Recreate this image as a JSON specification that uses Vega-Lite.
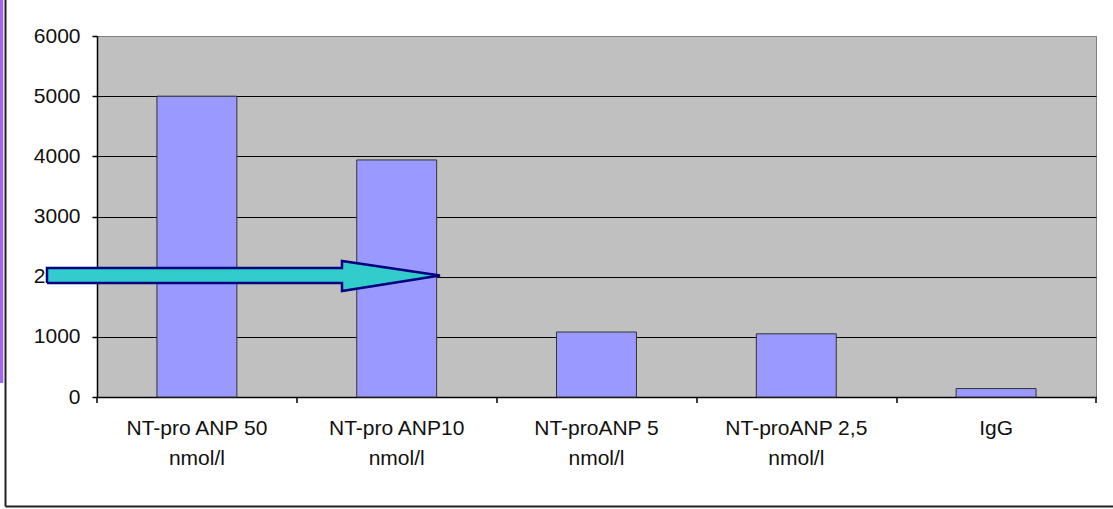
{
  "$schema": "https://vega.github.io/schema/vega-lite/v6.json",
  "width": 999,
  "height": 361,
  "autosize": {"type": "none"},
  "padding": {"left": 97, "top": 36, "right": 17, "bottom": 112},
  "background": "white",
  "config": {
    "view": {"fill": "#C0C0C0", "stroke": "#808080", "strokeWidth": 1},
    "font": "Liberation Sans"
  },
  "datasets": {
    "bars": [
      {"cat": "NT-pro ANP 50 nmol/l", "value": 5000},
      {"cat": "NT-pro ANP10 nmol/l", "value": 3940},
      {"cat": "NT-proANP 5 nmol/l", "value": 1080},
      {"cat": "NT-proANP 2,5 nmol/l", "value": 1050},
      {"cat": "IgG", "value": 140}
    ],
    "arrow": [
      {"i": 0, "x": -50, "y": 1895},
      {"i": 1, "x": 245, "y": 1895},
      {"i": 2, "x": 245, "y": 1762},
      {"i": 3, "x": 343, "y": 2020},
      {"i": 4, "x": 245, "y": 2260},
      {"i": 5, "x": 245, "y": 2144},
      {"i": 6, "x": -50, "y": 2144},
      {"i": 7, "x": -50, "y": 1895}
    ],
    "frame": [
      {"x": -91.5, "y": 6598, "x2": -91.5, "y2": -1820},
      {"x": -91.5, "y": -1820, "x2": 1016, "y2": -1820}
    ],
    "purple": [
      {"x": -95.5, "y": 6598, "x2": -95.5, "y2": 233}
    ],
    "ticks": [
      {"x": 0, "y": 0, "x2": 0, "y2": -100},
      {"x": 200, "y": 0, "x2": 200, "y2": -100},
      {"x": 400, "y": 0, "x2": 400, "y2": -100},
      {"x": 600, "y": 0, "x2": 600, "y2": -100},
      {"x": 800, "y": 0, "x2": 800, "y2": -100},
      {"x": 999, "y": 0, "x2": 999, "y2": -100}
    ]
  },
  "layer": [
    {
      "data": {"name": "bars"},
      "mark": {"type": "bar", "fill": "#9999FF", "stroke": "#333333", "strokeWidth": 1},
      "encoding": {
        "x": {
          "field": "cat", "type": "nominal", "sort": null,
          "scale": {"paddingInner": 0.6, "paddingOuter": 0.3},
          "axis": {
            "title": null, "labelAngle": 0, "ticks": false,
            "domainColor": "#000000", "domainWidth": 1.5,
            "labelFont": "Liberation Sans", "labelFontSize": 21, "labelColor": "#111111",
            "labelPadding": 20, "labelLineHeight": 30,
            "labelExpr": "datum.label == 'IgG' ? 'IgG' : split(replace(datum.label, ' nmol', '|nmol'), '|')"
          }
        },
        "y": {
          "field": "value", "type": "quantitative",
          "scale": {"domain": [0, 6000], "nice": false},
          "axis": {
            "title": null, "values": [0, 1000, 2000, 3000, 4000, 5000, 6000],
            "format": "d",
            "grid": true,
            "gridColor": {"condition": {"test": "datum.value == 6000", "value": "#808080"}, "value": "#000000"},
            "gridWidth": 1.2,
            "domainColor": "#000000", "domainWidth": 1.5,
            "tickColor": "#000000", "tickSize": 5, "tickWidth": 1.5,
            "labelFont": "Liberation Sans", "labelFontSize": 21, "labelColor": "#111111",
            "labelPadding": 12
          }
        }
      }
    },
    {
      "data": {"name": "ticks"},
      "mark": {"type": "rule", "color": "#000000", "strokeWidth": 1.5},
      "encoding": {
        "x": {"field": "x", "type": "quantitative", "scale": {"domain": [0, 999], "nice": false, "zero": false}, "axis": null},
        "x2": {"field": "x2"},
        "y": {"field": "y", "type": "quantitative"},
        "y2": {"field": "y2"}
      }
    },
    {
      "data": {"name": "frame"},
      "mark": {"type": "rule", "color": "#222222", "strokeWidth": 2},
      "encoding": {
        "x": {"field": "x", "type": "quantitative", "scale": {"domain": [0, 999], "nice": false, "zero": false}, "axis": null},
        "x2": {"field": "x2"},
        "y": {"field": "y", "type": "quantitative"},
        "y2": {"field": "y2"}
      }
    },
    {
      "data": {"name": "purple"},
      "mark": {"type": "rule", "color": "#A066F0", "strokeWidth": 3.5},
      "encoding": {
        "x": {"field": "x", "type": "quantitative", "scale": {"domain": [0, 999], "nice": false, "zero": false}, "axis": null},
        "x2": {"field": "x2"},
        "y": {"field": "y", "type": "quantitative"},
        "y2": {"field": "y2"}
      }
    },
    {
      "data": {"name": "arrow"},
      "mark": {"type": "line", "fill": "#33CCCC", "stroke": "#000080", "strokeWidth": 2.5, "strokeJoin": "miter"},
      "encoding": {
        "x": {"field": "x", "type": "quantitative", "scale": {"domain": [0, 999], "nice": false, "zero": false}, "axis": null},
        "y": {"field": "y", "type": "quantitative"},
        "order": {"field": "i", "type": "quantitative"}
      }
    }
  ],
  "resolve": {"scale": {"x": "independent"}}
}
